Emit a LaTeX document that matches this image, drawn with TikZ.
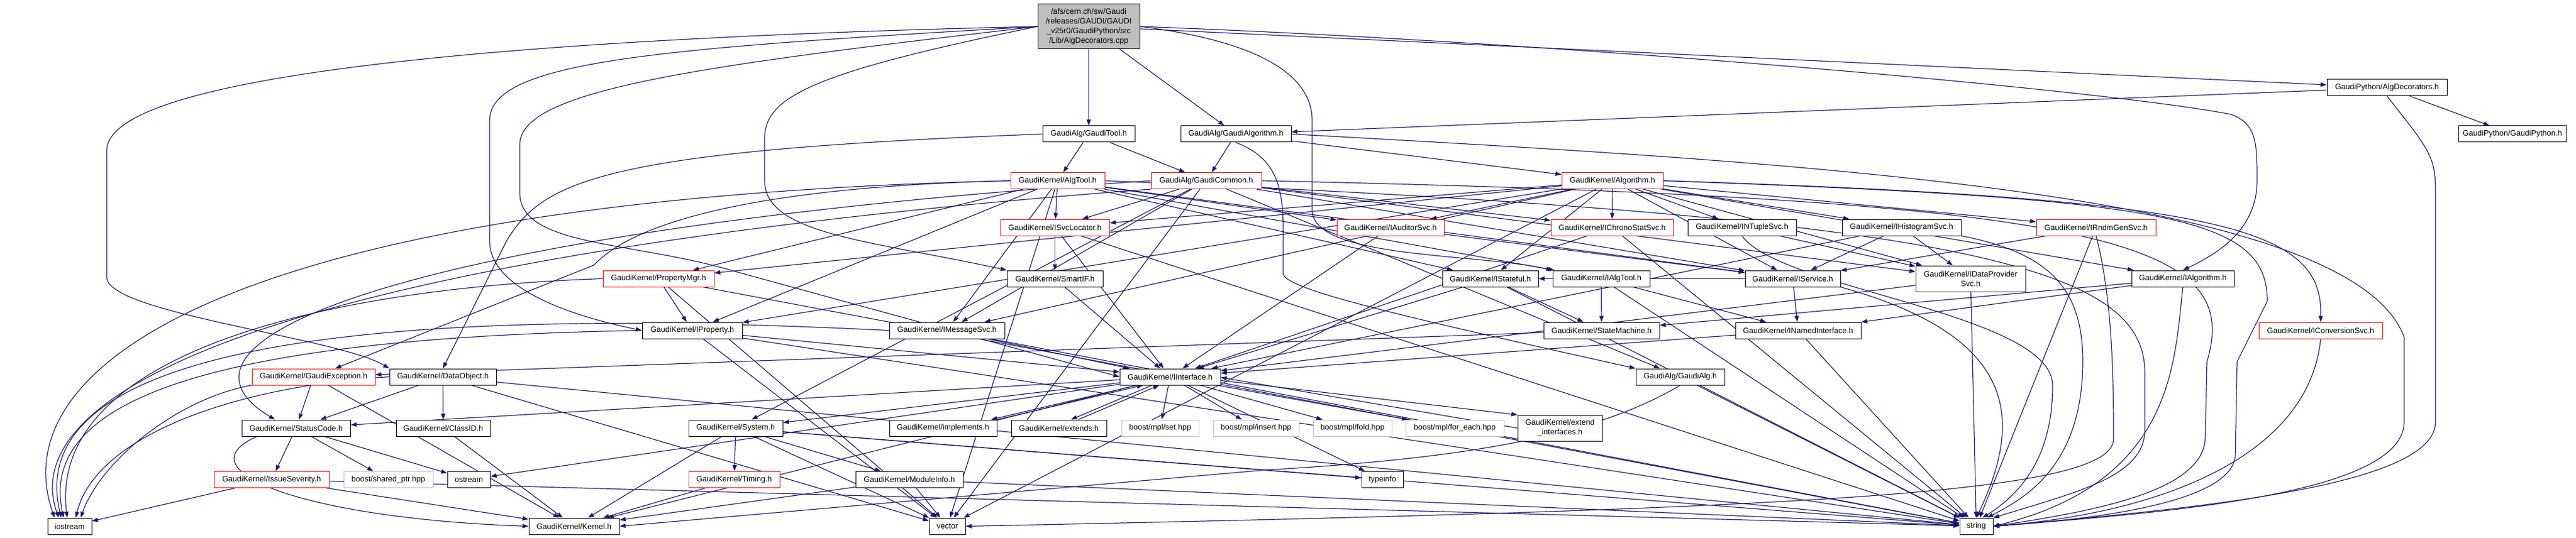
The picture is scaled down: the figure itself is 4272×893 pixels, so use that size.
\documentclass[tikz,border=0pt]{standalone}
\usepackage{fontspec}
\setmainfont{Liberation Sans}
\usetikzlibrary{arrows.meta,backgrounds}
\definecolor{incblue}{RGB}{25,25,112}
\definecolor{extgray}{RGB}{191,191,191}

\begin{document}
\begin{tikzpicture}[x=1pt,y=-1pt,>={Triangle[length=10pt,width=7pt]},line width=1pt,
  every edge/.style={draw=incblue,line width=1.2pt,->},
  link/.style={draw=incblue,line width=1.2pt,->},
  file node/.style={draw,fill=white,rectangle,inner sep=0pt,minimum height=27pt,font=\fontsize{13}{16}\selectfont},
  trunc node/.style={file node,draw=red},
  ext node/.style={file node,draw=extgray}]
\useasboundingbox (0,0) rectangle (4272,893);

% nodes
\node[file node,fill=extgray,minimum width=169,minimum height=74,align=center] (root) at (1805.5,44) {/afs/cern.ch/sw/Gaudi\\/releases/GAUDI/GAUDI\\\_v25r0/GaudiPython/src\\/Lib/AlgDecorators.cpp};
\node[file node,minimum width=153] (gtool) at (1805.5,222.5) {GaudiAlg/GaudiTool.h};
\node[file node,minimum width=183] (galgm) at (2049.5,222.5) {GaudiAlg/GaudiAlgorithm.h};
\node[file node,minimum width=199] (pyalgdec) at (3958.5,145.5) {GaudiPython/AlgDecorators.h};
\node[file node,minimum width=179] (pygp) at (4166.5,222.5) {GaudiPython/GaudiPython.h};
\node[trunc node,minimum width=156] (algtool) at (1754,300) {GaudiKernel/AlgTool.h};
\node[trunc node,minimum width=183] (gcommon) at (2000.5,300) {GaudiAlg/GaudiCommon.h};
\node[trunc node,minimum width=168] (algorithm) at (2674,300) {GaudiKernel/Algorithm.h};
\node[trunc node,minimum width=181] (isvcloc) at (1749.5,377.5) {GaudiKernel/ISvcLocator.h};
\node[trunc node,minimum width=178] (iauditor) at (2306,377.5) {GaudiKernel/IAuditorSvc.h};
\node[trunc node,minimum width=203] (ichrono) at (2673.5,377.5) {GaudiKernel/IChronoStatSvc.h};
\node[file node,minimum width=180] (intuple) at (2889,377.5) {GaudiKernel/INTupleSvc.h};
\node[file node,minimum width=197] (ihisto) at (3153.5,377.5) {GaudiKernel/IHistogramSvc.h};
\node[trunc node,minimum width=198] (irndm) at (3476,377.5) {GaudiKernel/IRndmGenSvc.h};
\node[trunc node,minimum width=184] (propmgr) at (1092,462.5) {GaudiKernel/PropertyMgr.h};
\node[file node,minimum width=159] (smartif) at (1749.5,462.5) {GaudiKernel/SmartIF.h};
\node[file node,minimum width=159] (istateful) at (2471.5,462.5) {GaudiKernel/IStateful.h};
\node[file node,minimum width=161] (ialgtool) at (2655.5,462.5) {GaudiKernel/IAlgTool.h};
\node[file node,minimum width=158] (iservice) at (2973,462.5) {GaudiKernel/IService.h};
\node[file node,minimum width=182,minimum height=43,align=center] (idataprov) at (3268,462.5) {GaudiKernel/IDataProvider\\Svc.h};
\node[file node,minimum width=170] (ialgorithm) at (3620,462.5) {GaudiKernel/IAlgorithm.h};
\node[file node,minimum width=166] (iproperty) at (1148,548.5) {GaudiKernel/IProperty.h};
\node[file node,minimum width=191] (imsgsvc) at (1570.5,548.5) {GaudiKernel/IMessageSvc.h};
\node[file node,minimum width=192] (statemach) at (2656,548.5) {GaudiKernel/StateMachine.h};
\node[file node,minimum width=208] (inamed) at (2982,548.5) {GaudiKernel/INamedInterface.h};
\node[trunc node,minimum width=205] (iconv) at (3848.5,548.5) {GaudiKernel/IConversionSvc.h};
\node[trunc node,minimum width=204] (gexception) at (520,625.5) {GaudiKernel/GaudiException.h};
\node[file node,minimum width=177] (dataobj) at (734.5,625.5) {GaudiKernel/DataObject.h};
\node[file node,minimum width=167] (iinterface) at (1940.5,625.5) {GaudiKernel/IInterface.h};
\node[file node,minimum width=147] (gaudialg) at (2786.5,625.5) {GaudiAlg/GaudiAlg.h};
\node[file node,minimum width=180] (statuscode) at (491,710.5) {GaudiKernel/StatusCode.h};
\node[file node,minimum width=156] (classid) at (735,710.5) {GaudiKernel/ClassID.h};
\node[file node,minimum width=156] (system) at (1220,710.5) {GaudiKernel/System.h};
\node[file node,minimum width=178] (implements) at (1564,710.5) {GaudiKernel/implements.h};
\node[file node,minimum width=158] (extends) at (1756,710.5) {GaudiKernel/extends.h};
\node[ext node,minimum width=128] (mplset) at (1924,710.5) {boost/mpl/set.hpp};
\node[ext node,minimum width=142] (mplinsert) at (2083,710.5) {boost/mpl/insert.hpp};
\node[ext node,minimum width=130] (mplfold) at (2243,710.5) {boost/mpl/fold.hpp};
\node[ext node,minimum width=163] (mplforeach) at (2412.5,710.5) {boost/mpl/for\_each.hpp};
\node[file node,minimum width=140,minimum height=43,align=center] (extendif) at (2587,710.5) {GaudiKernel/extend\\\_interfaces.h};
\node[trunc node,minimum width=191] (issue) at (450.5,796) {GaudiKernel/IssueSeverity.h};
\node[ext node,minimum width=148] (sharedptr) at (644,796) {boost/shared\_ptr.hpp};
\node[file node,minimum width=71] (ostream) at (777.5,796) {ostream};
\node[trunc node,minimum width=151] (timing) at (1217.5,796) {GaudiKernel/Timing.h};
\node[file node,minimum width=178] (moduleinfo) at (1508,796) {GaudiKernel/ModuleInfo.h};
\node[file node,minimum width=69] (typeinfo) at (2292.5,796) {typeinfo};
\node[file node,minimum width=73] (iostream) at (115.5,873.5) {iostream};
\node[file node,minimum width=150] (kernel) at (952,873.5) {GaudiKernel/Kernel.h};
\node[file node,minimum width=60] (vector) at (1571,873.5) {vector};
\node[file node,minimum width=55] (string) at (3277.5,873.5) {string};

\begin{scope}[on background layer]
% root file
\path (root) edge (gtool)
      (root) edge (galgm)
      (root) edge (pyalgdec);
\draw[link] (root.west) .. controls (1000,60) and (177,110) .. (177,250) -- (177,460) .. controls (177,520) and (560,560) .. (dataobj.north west);
\draw[link] (root.west) .. controls (1100,80) and (812,100) .. (812,200) -- (812,400) .. controls (812,480) and (950,525) .. (iproperty.west);
\draw[link] (root.west) .. controls (1150,110) and (862,150) .. (862,240) -- (862,320) .. controls (862,410) and (1050,400) .. (1217,450) -- (iinterface.west);
\draw[link] (root.west) .. controls (1350,120) and (1268,160) .. (1268,230) -- (1268,300) .. controls (1268,390) and (1450,400) .. (smartif.north west);
\draw[link] (root.east) .. controls (2600,70) and (3500,150) .. (3700,190) .. controls (3743,205) and (3743,240) .. (3743,300) .. controls (3743,380) and (3680,420) .. (ialgorithm.north);
\draw[link] (root.east) .. controls (2100,70) and (2176,130) .. (2176,200) -- (2176,350) .. controls (2180,430) and (2450,420) .. (ialgtool.north west);

% GaudiPython
\path (pyalgdec) edge (pygp)
      (pyalgdec) edge (galgm);
\draw[link] (pyalgdec.south) .. controls (4030,250) and (4039,260) .. (4039,320) -- (4039,700) .. controls (4039,800) and (3700,840) .. (string.east);

% GaudiTool and GaudiAlgorithm
\path (gtool) edge (algtool)
      (gtool) edge (gcommon);
\draw[link] (gtool.west) .. controls (1000,250) and (900,300) .. (840,400) -- (dataobj.north);
\path (galgm) edge (gcommon)
      (galgm) edge (algorithm);
\draw[link] (galgm.south) .. controls (2110,260) and (2128,300) .. (2128,380) -- (2128,455) .. controls (2135,480) and (2300,520) .. (gaudialg.north west);
\draw[link] (galgm.east) .. controls (3000,270) and (3900,320) .. (3987,560) -- (3987,700) .. controls (3987,820) and (3600,850) .. (string.east);

% AlgTool
\path (algtool) edge (isvcloc)
      (algtool) edge (iproperty)
      (algtool) edge (iservice)
      (algtool) edge (imsgsvc)
      (algtool) edge (propmgr)
      (algtool) edge (istateful)
      (algtool) edge (iauditor)
      (algtool) edge (ialgtool)
      (algtool) edge (vector);
\draw[link] (algtool.west) .. controls (400,330) and (0,600) .. ([xshift=-25pt]iostream.north);
\draw[link] (algtool.west) .. controls (1250,310) and (1050,370) .. (985,440) -- ([xshift=36pt]gexception.north);
\draw[link] (algtool.east) .. controls (3300,360) and (3557,450) .. (3557,620) -- (3557,713) .. controls (3557,790) and (3450,815) .. (string.north east);

% GaudiCommon
\path (gcommon) edge (gaudialg)
      (gcommon) edge (imsgsvc)
      (gcommon) edge (isvcloc)
      (gcommon) edge (ichrono)
      (gcommon) edge (idataprov)
      (gcommon) edge (iservice)
      (gcommon) edge (system)
      (gcommon) edge (vector);
\draw[link] (gcommon.west) .. controls (700,380) and (230,560) .. ([xshift=-35pt]statuscode.north);
\draw[link] (gcommon.south west) .. controls (500,420) and (20,640) .. ([xshift=-18pt]iostream.north);
\draw[link] (gcommon.east) .. controls (3500,330) and (3720,400) .. (3660,600) -- (3657,730) .. controls (3650,810) and (3500,845) .. (string.east);

% Algorithm
\path (algorithm) edge (iproperty)
      (algorithm) edge (iservice)
      (algorithm) edge (propmgr)
      (algorithm) edge (isvcloc)
      (algorithm) edge (imsgsvc)
      (algorithm) edge (istateful)
      (algorithm) edge (idataprov)
      (algorithm) edge (ihisto)
      (algorithm) edge (intuple)
      (algorithm) edge (ichrono)
      (algorithm) edge (irndm)
      (algorithm) edge (iauditor)
      (algorithm) edge (ialgorithm)
      (algorithm) edge (vector);
\draw[link] (algorithm.east) .. controls (3700,330) and (3852,380) .. (iconv.north);
\draw[link] (algorithm.east) .. controls (3600,330) and (3760,360) .. (3760,500) -- (3710,600) -- (3707,757) .. controls (3700,830) and (3500,860) .. (string.east);

% services
\path (isvcloc) edge (smartif)
      (isvcloc) edge (iinterface)
      (isvcloc) edge (string);
\path (iauditor) edge (iservice)
      (iauditor) edge (iinterface);
\path (ichrono) edge (iinterface)
      (ichrono) edge (string);
\path (intuple) edge (idataprov);
\draw[link] (intuple.south) .. controls (2950,480) and (3404,520) .. (3404,640) .. controls (3404,760) and (3350,820) .. ([xshift=10pt]string.north);
\path (ihisto) edge (iservice)
      (ihisto) edge (idataprov)
      (ihisto) edge (iinterface);
\draw[link] (ihisto.south east) .. controls (3400,420) and (3454,480) .. (3454,600) .. controls (3454,780) and (3350,830) .. ([xshift=18pt]string.north);
\path (irndm) edge (iservice)
      (irndm) edge (string);
\draw[link] (irndm.south) .. controls (3505,500) and (3505,650) .. (3505,730) .. controls (3500,820) and (3000,845) .. (vector.east);

% interfaces
\path (propmgr) edge (iproperty)
      (propmgr) edge (vector)
      (propmgr) edge (string);
\draw[link] (propmgr.west) .. controls (500,480) and (80,600) .. ([xshift=-4pt]iostream.north);
\path (smartif) edge (iinterface);
\path (istateful) edge (statemach)
      (istateful) edge (iinterface)
      (istateful) edge (string);
\path (ialgtool) edge (statemach)
      (ialgtool) edge (inamed)
      (ialgtool) edge (string);
\path (iservice) edge (inamed)
      (iservice) edge (istateful);
\draw[link] (iservice.south east) .. controls (3353,560) and (3353,700) .. (string.north);
\path (idataprov) edge (iinterface)
      (idataprov) edge (string);
\path (ialgorithm) edge (inamed)
      (ialgorithm) edge (statemach);
\draw[link] (ialgorithm.south) .. controls (3606,600) and (3606,800) .. (string.east);
\path (iproperty) edge (iinterface)
      (iproperty) edge (vector)
      (iproperty) edge (string);
\draw[link] (iproperty.west) .. controls (400,560) and (60,650) .. ([xshift=-10pt]iostream.north);
\path (imsgsvc) edge (iinterface)
      (imsgsvc) edge (string);
\draw[link] (imsgsvc.west) .. controls (500,500) and (40,600) .. ([xshift=-14pt]iostream.north);
\path (statemach) edge (gexception);
\path (inamed) edge (iinterface)
      (inamed) edge (string);
\draw[link] (iconv.south) .. controls (3830,750) and (3600,850) .. (string.east);

% lower levels
\path (gexception) edge (statuscode)
      (gexception) edge (kernel);
\draw[link] (gexception.south west) .. controls (300,660) and (170,760) .. ([xshift=18pt]iostream.north);
\path (dataobj) edge (classid)
      (dataobj) edge (statuscode)
      (dataobj) edge (vector)
      (dataobj) edge (string);
\draw[link] (dataobj.west) .. controls (400,640) and (160,720) .. ([xshift=10pt]iostream.north);
\path (iinterface) edge (kernel)
      (iinterface) edge (system)
      (iinterface) edge (statuscode)
      (iinterface) edge (ostream)
      (iinterface) edge (mplset)
      (iinterface) edge (mplinsert)
      (iinterface) edge (mplfold)
      (iinterface) edge (mplforeach)
      (iinterface) edge (typeinfo);
\draw[link] ([xshift=-55pt]iinterface.south) -- ([xshift=-10pt]implements.north east);
\draw[link] (implements.north east) -- ([xshift=-45pt]iinterface.south);
\draw[link] ([xshift=-30pt]iinterface.south) -- ([xshift=20pt]extends.north);
\draw[link] ([xshift=32pt]extends.north) -- ([xshift=-18pt]iinterface.south);
\draw[link] ([yshift=-6pt]iinterface.east) -- (extendif.north west);
\draw[link] (extendif.west) -- ([yshift=-1pt]iinterface.east);
\draw[link] (gaudialg.south) .. controls (2650,720) and (2450,760) .. (2100,780) -- (kernel.east);
\path (gaudialg) edge (string);

\path (statuscode) edge (issue)
      (statuscode) edge (sharedptr)
      (statuscode) edge (ostream);
\draw[link] ([xshift=-65pt]statuscode.south) .. controls (300,780) and (500,860) .. (kernel.west);
\path (classid) edge (kernel);
\path (system) edge (timing)
      (system) edge (moduleinfo)
      (system) edge (kernel)
      (system) edge (typeinfo)
      (system) edge (vector)
      (system) edge (string);
\path (issue) edge (iostream)
      (issue) edge (kernel)
      (issue) edge (string);
\path (timing) edge (kernel);
\path (moduleinfo) edge (vector)
      (moduleinfo) edge (kernel)
      (moduleinfo) edge (string);
\end{scope}
\end{tikzpicture}
\end{document}
